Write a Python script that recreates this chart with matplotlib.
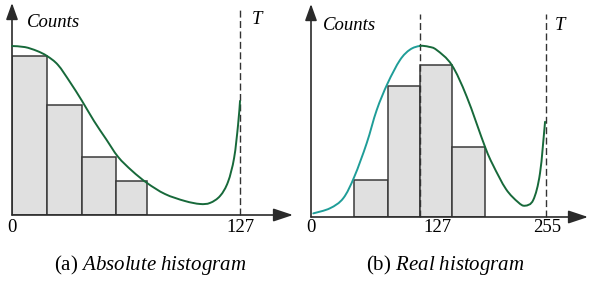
import matplotlib
matplotlib.use('Agg')
import matplotlib.pyplot as plt
from matplotlib.path import Path
from matplotlib.patches import PathPatch
import numpy as np

plt.rcParams['font.family'] = ['Liberation Serif', 'DejaVu Serif']
plt.rcParams['mathtext.fontset'] = 'custom'
plt.rcParams['mathtext.rm'] = 'Liberation Serif'
plt.rcParams['mathtext.it'] = 'Liberation Serif:italic'

# ---------------- data: (a) absolute histogram ----------------
a_edges = [0, 19.5, 39, 58, 75.2]
a_counts = [75, 52, 27.5, 16]
a_curve_x = [0, 7.2, 13.9, 19.5, 25.6, 32.3, 39.0, 45.7, 52.4, 59.1, 66.9, 75.2,
             85.2, 96.3, 104.7, 110.3, 115.9, 120.3, 123.7, 125.9, 127]
a_curve_y = [79.7, 79.2, 77.4, 75.0, 70.8, 62.7, 53.8, 44.3, 35.8, 27.4, 20.8, 15.1,
             9.9, 6.6, 5.2, 5.7, 9.0, 15.6, 26.9, 42.5, 53.8]
a_threshold = 127
a_tick_pos = [0, 127]
a_tick_labels = ['0', '127']

# ---------------- data: (b) real histogram ----------------
b_edges = [46.7, 83.6, 118.3, 153, 188.8]
b_counts = [17.4, 61.5, 71.4, 32.9]
b_rise_x = [2.5, 20.6, 35, 47, 60.4, 71.3, 83.2, 96.6, 107.5, 118.3]
b_rise_y = [1.7, 4.1, 8.8, 18.9, 34.6, 50.2, 62.8, 73.7, 78.6, 80.3]
b_fall_x = [118.3, 128, 136.4, 152.7, 169, 188.8, 197.5, 211.6, 224.6, 232.2, 241.2, 248.5, 254]
b_fall_y = [80.3, 79.9, 78.4, 71.4, 56.5, 33, 24.4, 13.1, 7.0, 5.3, 8, 20.5, 44.7]
b_mean = 118.3
b_threshold = 255
b_tick_pos = [0, 137, 256]
b_tick_labels = ['0', '127', '255']

GREEN = '#17693a'
TEAL = '#1f9d98'
BAR_FC = '#e0e0e0'
BAR_EC = '#3a3a3a'
AX_C = '#2a2a2a'
FS = 13.5
FS_CAP = 15


def smooth_segments(xs, ys):
    """Catmull-Rom -> cubic Bezier segments through the given points."""
    p = np.column_stack([xs, ys]).astype(float)
    n = len(p)
    segs = []
    for i in range(n - 1):
        p0 = p[i - 1] if i > 0 else p[i]
        p3 = p[i + 2] if i + 2 < n else p[i + 1]
        c1 = p[i] + (p[i + 1] - p0) / 6.0
        c2 = p[i + 1] - (p3 - p[i]) / 6.0
        segs.append((p[i], c1, c2, p[i + 1]))
    return segs


def draw_segs(ax, segs, color, lw=1.4):
    verts = [segs[0][0]]
    codes = [Path.MOVETO]
    for s in segs:
        verts += [s[1], s[2], s[3]]
        codes += [Path.CURVE4] * 3
    ax.add_patch(PathPatch(Path(verts, codes), fc='none', ec=color, lw=lw,
                           clip_on=False, zorder=4, capstyle='round'))


def axes_arrows(ax, xmax, ymax):
    ax.annotate('', xy=(xmax, 0), xytext=(0, 0), annotation_clip=False,
                arrowprops=dict(arrowstyle='-|>,head_length=1.2,head_width=0.4',
                                color=AX_C, lw=1.2, shrinkA=0, shrinkB=0))
    ax.annotate('', xy=(0, ymax), xytext=(0, 0), annotation_clip=False,
                arrowprops=dict(arrowstyle='-|>,head_length=1.0,head_width=0.36',
                                color=AX_C, lw=1.2, shrinkA=0, shrinkB=0))


fig = plt.figure(figsize=(5.89, 2.82), dpi=100)
axA = fig.add_axes([12 / 589, 67 / 282, 281 / 589, 212 / 282])
axB = fig.add_axes([311 / 589, 65 / 282, 277 / 589, 213 / 282])

# ---- panel (a)
axA.set_xlim(0, 156.5)
axA.set_ylim(0, 100)
axA.axis('off')
axA.bar(a_edges[:-1], a_counts, width=np.diff(a_edges), align='edge',
        color=BAR_FC, edgecolor=BAR_EC, linewidth=1.1, zorder=2)
draw_segs(axA, smooth_segments(a_curve_x, a_curve_y), GREEN)
axA.plot([a_threshold, a_threshold], [0, 97.6], ls=(0, (5, 2.5)),
         color='#333333', lw=1.0, zorder=3, clip_on=False)
axes_arrows(axA, 156.5, 100)
for p, l in zip(a_tick_pos, a_tick_labels):
    axA.text(p, -5.7, l, ha='center', va='center', fontsize=FS)
axA.text(8.2, 90.6, 'Counts', style='italic', ha='left', va='center', fontsize=FS)
axA.text(136.5, 92, 'T', style='italic', ha='center', va='center', fontsize=FS)

# ---- panel (b)
axB.set_xlim(0, 300.6)
axB.set_ylim(0, 100)
axB.axis('off')
axB.bar(b_edges[:-1], b_counts, width=np.diff(b_edges), align='edge',
        color=BAR_FC, edgecolor=BAR_EC, linewidth=1.1, zorder=2)
full_x = b_rise_x + b_fall_x[1:]
full_y = b_rise_y + b_fall_y[1:]
segs = smooth_segments(full_x, full_y)
k = len(b_rise_x) - 1
draw_segs(axB, segs[:k], TEAL)
draw_segs(axB, segs[k:], GREEN)
for xv in (b_mean, b_threshold):
    axB.plot([xv, xv], [0, 95.3], ls=(0, (5, 2.5)), color='#333333',
             lw=1.0, zorder=3, clip_on=False)
axes_arrows(axB, 300.6, 100)
for p, l in zip(b_tick_pos, b_tick_labels):
    axB.text(p, -4.9, l, ha='center', va='center', fontsize=FS)
axB.text(13.4, 90.1, 'Counts', style='italic', ha='left', va='center', fontsize=FS)
axB.text(270.2, 90.1, 'T', style='italic', ha='center', va='center', fontsize=FS)

# ---- captions
fig.text(150 / 589, 1 - 265 / 282, r'(a) $\mathit{Absolute\ histogram}$',
         ha='center', va='center', fontsize=FS_CAP)
fig.text(445.5 / 589, 1 - 265 / 282, r'(b) $\mathit{Real\ histogram}$',
         ha='center', va='center', fontsize=FS_CAP)

fig.savefig('out.png', dpi=100)
